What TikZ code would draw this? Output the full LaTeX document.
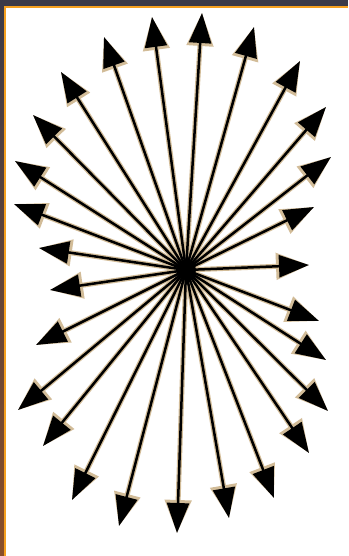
\documentclass[tikz,border=0pt]{standalone}
\usetikzlibrary{arrows.meta}
\definecolor{frameDark}{HTML}{3B3A48}
\definecolor{frameBrown}{HTML}{8A4E28}
\definecolor{edgeOrange}{HTML}{F5A020}
\definecolor{halo}{HTML}{D2BC98}
\tikzset{
  haloarrow/.style={draw=halo, line width=5pt, -{Triangle[length=33pt,width=26pt]}},
  blackarrow/.style={draw=black, line width=2.5pt, -{Triangle[length=30pt,width=22pt]}},
}
\begin{document}
\begin{tikzpicture}[x=1pt,y=-1pt]
\useasboundingbox (0,0) rectangle (348,556);
% outer frame
\fill[frameDark] (0,0) rectangle (348,556);
\shade[top color=frameDark, bottom color=frameBrown] (0,0) rectangle (5,556);
% panel
\fill[edgeOrange] (4,6) rectangle (348,556);
\fill[white] (6,8) rectangle (348,556);
% center and tips
\coordinate (c) at (186,270);
\foreach \n/\x/\y in {1/202/13, 2/152/17, 3/104/37, 4/61/72, 5/33/115, 6/15/161, 7/14/204,
  8/39/248, 9/50/290, 10/36/345, 11/18/410, 12/43/446, 13/72/500, 14/119/526,
  15/177/533, 16/229/518, 17/274/498, 18/309/453, 19/328/411, 20/326/360,
  21/319/321, 22/309/265, 23/314/207, 24/331/157, 25/326/107, 26/300/61, 27/254/27}
  {\coordinate (t\n) at (\x,\y);}
\foreach \n in {1,...,27} {\draw[haloarrow] (c) -- (t\n);}
\foreach \n in {1,...,27} {\draw[blackarrow] (c) -- (t\n);}
\fill[black] (c) circle (10);
\end{tikzpicture}
\end{document}
